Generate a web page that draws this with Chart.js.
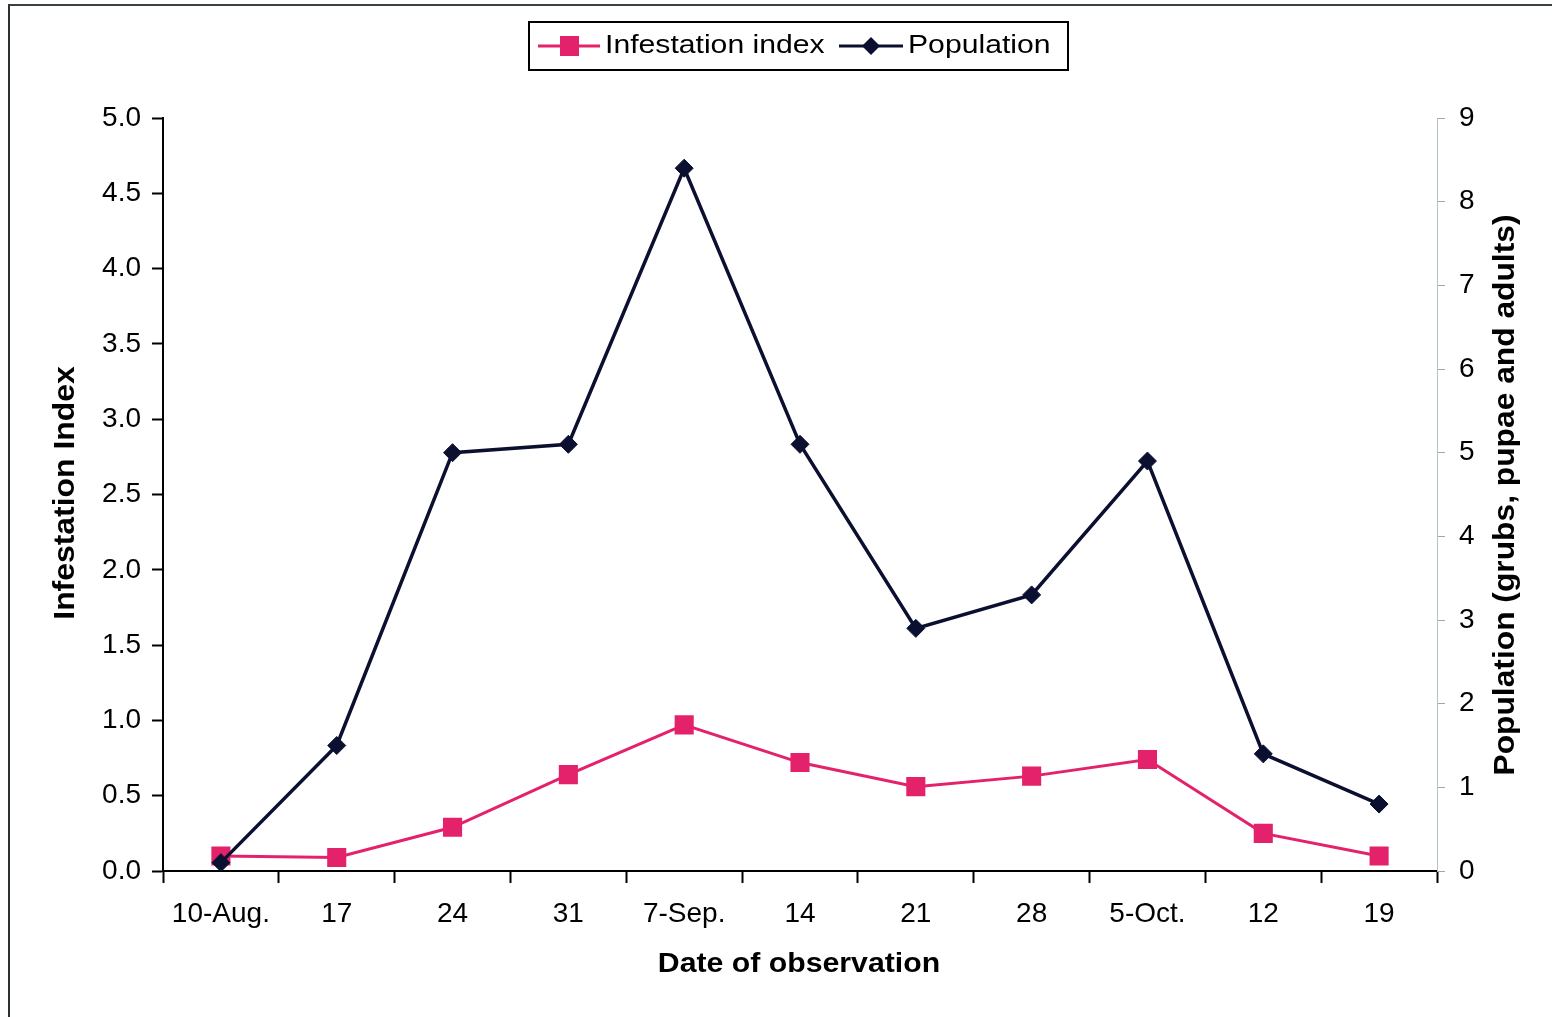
<!DOCTYPE html>
<html>
<head>
<meta charset="utf-8">
<title>Infestation index and population</title>
<script src="https://cdn.jsdelivr.net/npm/chart.js@4/dist/chart.umd.min.js"></script>
<style>
  html, body { margin: 0; padding: 0; background: #fff; overflow: hidden; }
  #frame {
    position: absolute; left: 8px; top: 4px; width: 1560px; height: 1030px;
    border-left: 2px solid #2a3230; border-top: 2px solid #3a4240;
  }
  #chart { position: absolute; left: 0; top: 0; }
</style>
</head>
<body>
<div id="frame"></div>
<canvas id="chart" width="1552" height="1017"></canvas>
<script>
// observation dates (weekly)
const dates = ['10-Aug.', '17', '24', '31', '7-Sep.', '14', '21', '28', '5-Oct.', '12', '19'];
const infestation_index = [0.10, 0.09, 0.29, 0.64, 0.97, 0.72, 0.56, 0.63, 0.74, 0.25, 0.10];
const population = [0.1, 1.5, 5.0, 5.1, 8.4, 5.1, 2.9, 3.3, 4.9, 1.4, 0.8];

const FONT = '"Liberation Sans", Arial, sans-serif';
const PINK = '#e4226b';
const NAVY = '#0c1030';

// text a little wider than the font, like the old excel export
function stretched_text(ctx, text, x, y, font, stretch, align, angle) {
  ctx.save();
  ctx.fillStyle = '#000';
  ctx.font = font;
  ctx.textAlign = align;
  ctx.textBaseline = 'middle';
  ctx.translate(x, y);
  if (angle) ctx.rotate(angle);
  ctx.scale(stretch, 1);
  ctx.fillText(text, 0, 0);
  ctx.restore();
}

// legend box in the excel style: line through the marker, boxed
const legend_box = {
  id: 'legend_box',
  afterDraw(chart) {
    const ctx = chart.ctx;
    ctx.save();
    ctx.strokeStyle = '#000';
    ctx.lineWidth = 2;
    ctx.strokeRect(529, 22, 539, 48);

    const cy = 46;
    ctx.lineWidth = 3;
    ctx.strokeStyle = PINK;
    ctx.beginPath(); ctx.moveTo(538, cy); ctx.lineTo(600, cy); ctx.stroke();
    ctx.fillStyle = PINK;
    ctx.fillRect(560, cy - 10, 19, 20);

    ctx.strokeStyle = NAVY;
    ctx.beginPath(); ctx.moveTo(839, cy); ctx.lineTo(903, cy); ctx.stroke();
    ctx.fillStyle = NAVY;
    ctx.beginPath();
    ctx.moveTo(871, cy - 9); ctx.lineTo(880, cy); ctx.lineTo(871, cy + 9); ctx.lineTo(862, cy);
    ctx.closePath(); ctx.fill();
    ctx.restore();

    stretched_text(ctx, 'Infestation index', 605, cy, '26px ' + FONT, 1.16, 'left');
    stretched_text(ctx, 'Population', 908, cy, '26px ' + FONT, 1.16, 'left');
  }
};

// axis titles, both vertical ones read bottom to top
const axis_titles = {
  id: 'axis_titles',
  afterDraw(chart) {
    const ctx = chart.ctx;
    const bold = 'bold 27px ' + FONT;
    const bold_v = 'bold 29px ' + FONT;
    stretched_text(ctx, 'Date of observation', 799, 965, bold, 1.12, 'center');
    stretched_text(ctx, 'Infestation Index', 66, 493, bold_v, 1.1, 'center', -Math.PI / 2);
    stretched_text(ctx, 'Population (grubs, pupae and adults)', 1506, 495, bold_v, 1.095, 'center', -Math.PI / 2);
  }
};

new Chart(document.getElementById('chart'), {
  type: 'line',
  data: {
    labels: dates,
    datasets: [{
      label: 'Population',
      data: population,
      yAxisID: 'y2',
      borderColor: NAVY,
      backgroundColor: NAVY,
      borderWidth: 3.5,
      pointStyle: 'rectRot',
      pointRadius: 9,
      pointBorderWidth: 1,
      tension: 0,
      order: 0
    }, {
      label: 'Infestation index',
      data: infestation_index,
      yAxisID: 'y',
      borderColor: PINK,
      backgroundColor: PINK,
      borderWidth: 3,
      pointStyle: 'rect',
      pointRadius: 13.5,
      pointBorderWidth: 0,
      tension: 0,
      order: 1
    }]
  },
  options: {
    responsive: false,
    animation: false,
    layout: { padding: { top: 118, left: 0, right: 0, bottom: 0 } },
    plugins: {
      legend: { display: false },
      tooltip: { enabled: false }
    },
    scales: {
      x: {
        offset: true,
        grid: {
          offset: true,
          drawOnChartArea: false,
          tickLength: 12,
          tickWidth: 2,
          tickColor: '#000'
        },
        border: { color: '#000', width: 2 },
        ticks: {
          color: '#000',
          font: { family: FONT, size: 28 },
          padding: 14,
          maxRotation: 0,
          autoSkip: false
        },
        afterFit(scale) { scale.height = 146; }
      },
      y: {
        position: 'left',
        min: 0,
        max: 5,
        grid: {
          drawOnChartArea: false,
          tickLength: 11,
          tickWidth: 2,
          tickColor: '#000'
        },
        border: { color: '#000', width: 2 },
        ticks: {
          stepSize: 0.5,
          color: '#000',
          font: { family: FONT, size: 28 },
          padding: 11,
          callback: v => v.toFixed(1)
        },
        afterFit(scale) { scale.width = 163; }
      },
      y2: {
        position: 'right',
        min: 0,
        max: 9,
        grid: {
          drawOnChartArea: false,
          tickLength: 8,
          tickWidth: 1,
          tickColor: '#9aaaa8'
        },
        border: { color: '#b4c4c2', width: 1 },
        ticks: {
          stepSize: 1,
          color: '#000',
          font: { family: FONT, size: 28 },
          padding: 14
        },
        afterFit(scale) { scale.width = 115; }
      }
    }
  },
  plugins: [legend_box, axis_titles]
});
</script>
</body>
</html>
